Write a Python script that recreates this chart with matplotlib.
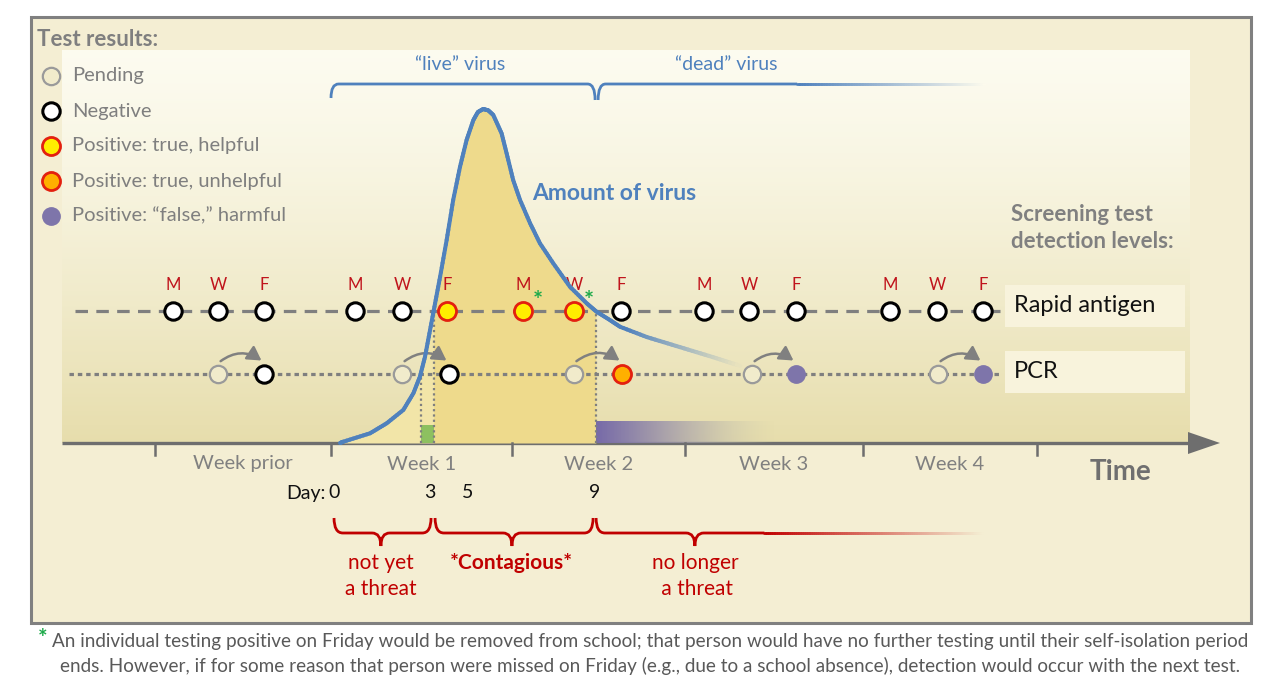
import numpy as np
import matplotlib.pyplot as plt
from matplotlib.colors import to_rgb
from matplotlib.patches import Rectangle, Polygon, PathPatch, FancyArrowPatch
from matplotlib.path import Path
from matplotlib.collections import LineCollection
from matplotlib.transforms import blended_transform_factory

plt.rcParams['font.family'] = ['Lato', 'DejaVu Sans']
plt.rcParams['lines.scale_dashes'] = False

# amount of virus over time (day, relative amount, peak = 100)
virus_day = [0.36, 0.49, 1.55, 2.21, 2.87, 3.27, 3.53, 3.73, 3.93, 4.13, 4.33,
             4.59, 4.85, 5.12, 5.38, 5.65, 5.83, 6.04, 6.24, 6.44, 6.77, 6.97,
             7.23, 7.50, 7.90, 8.29, 8.82, 9.48, 10.15, 10.54, 11.07, 11.47,
             12.54, 13.85, 15.16, 16.23]
virus_amt = [0.0, 0.4, 2.9, 5.9, 9.9, 14.9, 19.9, 25.8, 33.8, 41.8, 49.8,
             60.8, 72.8, 82.7, 90.7, 96.7, 99.1, 100.0, 99.6, 98.2, 92.7, 86.7,
             78.7, 72.8, 65.8, 59.8, 53.8, 46.8, 41.8, 39.3, 36.8, 34.8,
             31.7, 28.7, 25.7, 23.1]

week_labels = ['Week prior', 'Week 1', 'Week 2', 'Week 3', 'Week 4']
week_edges = [-7, 0, 7.2, 14.05, 21.1, 28]

# detection levels of the two screening tests
rapid_level = 39.5
pcr_level = 20.7

rapid_days = [-6.27, -4.48, -2.66, 0.95, 2.82, 4.60, 7.62, 9.64, 11.51,
              14.80, 16.59, 18.45, 22.18, 24.05, 25.87]
rapid_letters = ['M', 'W', 'F'] * 5
rapid_results = ['neg'] * 5 + ['pos'] * 3 + ['neg'] * 7
rapid_starred = [7.62, 9.64]

pcr_sent = [-4.48, 2.82, 9.64, 16.71, 24.09]
pcr_back = [-2.66, 4.68, 11.55, 18.45, 25.87]
pcr_results = ['neg', 'neg', 'late', 'false', 'false']

day_numbers = ['0', '3', '5', '9']
day_number_pos = [0.12, 3.93, 5.44, 10.48]

phase_text = ['not yet\na threat', '*Contagious*', 'no longer\n a threat']
phase_span = [(0.12, 3.97), (4.13, 10.40), (10.52, 25.9)]
phase_tip = [1.98, 7.18, 14.44]

legend_kinds = ['pending', 'neg', 'pos', 'late', 'false']
legend_text = ['Pending', 'Negative', 'Positive: true, helpful',
               'Positive: true, unhelpful', 'Positive: \u201cfalse,\u201d harmful']

style = {
    'pending': dict(mfc='#F1EBCB', mec='#9A9A9A', mew=1.6, ms=12.5),
    'neg': dict(mfc='white', mec='black', mew=2.2, ms=12.5),
    'pos': dict(mfc='#FFEE00', mec='#E3200F', mew=2.0, ms=13),
    'late': dict(mfc='#FFB000', mec='#E3200F', mew=2.0, ms=13),
    'false': dict(mfc='#7E75AA', mec='#7E75AA', mew=1.0, ms=12.5),
}
blue = '#4F81BD'
red = '#C00000'
gray = '#7F7F7F'
outer_bg = '#F4EED3'

# figure: bg axes in pixels, ax in days / virus amount
X0, PXD = 331, 25.2
Y0, PXA = 443, 3.34
fig = plt.figure(figsize=(12.8, 6.86), dpi=100)
bg = fig.add_axes([0, 0, 1, 1])
bg.axis('off')
ax = fig.add_axes([0, 0, 1, 1])
ax.axis('off')
tx = blended_transform_factory(ax.transData, bg.transData)

top_c = np.array([0.99, 0.985, 0.94])
bot_c = np.array([0.905, 0.868, 0.675])


def panel_color(py):
    gg = np.clip((py - 50) / 393.0, 0, 1) ** 1.3
    return top_c * (1 - gg) + bot_c * gg


bg.add_patch(Rectangle((31, 17), 1220, 606, fc=outer_bg, ec='#808080', lw=2.2, zorder=0))
panel = np.array([panel_color(p) for p in np.linspace(50, 443, 256)])[:, None, :]
bg.imshow(panel, extent=(62, 1190, 443, 50), aspect='auto', zorder=1)
bg.set_xlim(0, 1280)
bg.set_ylim(686, 0)

# virus curve and shaded areas
d = np.array(virus_day)
a = np.array(virus_amt)
pk = int(np.argmax(a))
t_pcr = np.interp(pcr_level, a[:pk + 1], d[:pk + 1])
t_on = np.interp(rapid_level, a[:pk + 1], d[:pk + 1])
t_off = np.interp(rapid_level, a[pk:][::-1], d[pk:][::-1])

m = d < t_on
ax.fill_between(np.r_[d[m], t_on], 0, np.r_[a[m], rapid_level], color='#F2E5A8', lw=0, zorder=2)
m = (d > t_on) & (d < t_off)
ax.fill_between(np.r_[t_on, d[m], t_off], 0, np.r_[rapid_level, a[m], rapid_level],
                color='#EEDA8C', lw=0, zorder=2)
ax.fill_between([t_pcr, t_on], 0, 5.4, color='#8DC060', lw=0, zorder=3)

pg = np.linspace(0, 1, 200)
purple = np.zeros((1, 200, 4))
purple[0, :, 0] = 0.47 + 0.35 * pg
purple[0, :, 1] = 0.42 + 0.40 * pg
purple[0, :, 2] = 0.66 + 0.02 * pg
purple[0, :, 3] = np.clip(1 - pg ** 1.6, 0, 1)
ax.imshow(purple, extent=(t_off, 17.6, 0, 6.3), aspect='auto', zorder=3, interpolation='bilinear')

for t, lev in [(t_pcr, pcr_level), (t_on, rapid_level), (t_off, rapid_level)]:
    ax.plot([t, t], [0, lev], color=gray, lw=1.6, dashes=(1.6, 2.2), zorder=4)

# curve, fading into the background on the right
fine = []
for i in range(len(d) - 1):
    for k in range(8):
        u0, u1 = k / 8, (k + 1) / 8
        fine.append([(d[i] + (d[i + 1] - d[i]) * u0, a[i] + (a[i + 1] - a[i]) * u0),
                     (d[i] + (d[i + 1] - d[i]) * u1, a[i] + (a[i + 1] - a[i]) * u1)])
fine = np.array(fine)
cols = []
for sg in fine:
    xm, ym = sg.mean(axis=0)
    t = np.clip((xm - 11.8) / (16.3 - 11.8), 0, 1) ** 0.9
    cols.append((1 - t) * np.array(to_rgb(blue)) + t * panel_color(Y0 - ym * PXA))
ax.add_collection(LineCollection(fine, colors=cols, lw=2.9, capstyle='round',
                                 joinstyle='round', zorder=8))

# test lines and markers
ax.plot([-10.15, 26.55], [rapid_level] * 2, color=gray, lw=2.3, dashes=(9, 6), zorder=5)
ax.plot([-10.4, 26.55], [pcr_level] * 2, color=gray, lw=2.3, dashes=(3.2, 2.8), zorder=5)
for dd, r, lt in zip(rapid_days, rapid_letters, rapid_results):
    ax.plot(dd, rapid_level, 'o', zorder=7, **style[lt])
    ax.text(dd, 285, r, transform=tx, color='#C0141C', fontsize=12,
            ha='center', va='center', zorder=7)
for dd in rapid_starred:
    ax.text(dd + 0.6, 302, '*', transform=tx, color='#1DAA4A', fontsize=17,
            weight='bold', ha='center', va='center', zorder=7)
for s, b, r in zip(pcr_sent, pcr_back, pcr_results):
    ax.plot(s, pcr_level, 'o', zorder=7, **style['pending'])
    ax.plot(b, pcr_level, 'o', zorder=7, **style[r])
    ax.add_patch(FancyArrowPatch((s + 0.1, pcr_level + 3.8), (b - 0.1, pcr_level + 4.0),
                                 connectionstyle='arc3,rad=-0.35',
                                 arrowstyle='-|>,head_length=0.55,head_width=0.32',
                                 mutation_scale=15, shrinkA=0, shrinkB=0,
                                 color='#808080', lw=1.8, zorder=7))

# time axis
bg.plot([62, 1195], [443, 443], color='#6E6E6E', lw=2.4, solid_capstyle='butt', zorder=6)
bg.add_patch(Polygon([(1188, 432), (1220, 443), (1188, 454)], closed=True,
                     fc='#6E6E6E', ec='none', zorder=6))
for e in week_edges:
    ax.plot([e, e], [443, 455], transform=tx, color='#6E6E6E', lw=1.8, zorder=6)
for i, lab in enumerate(week_labels):
    ax.text((week_edges[i] + week_edges[i + 1]) / 2, 464, lab, transform=tx,
            fontsize=14.5, color='#808080', ha='center', va='center')
bg.text(1120, 472, 'Time', fontsize=20, weight='bold', color='#6F6F6F', ha='center', va='center')

ax.text(day_number_pos[0] - 0.35, 493, 'Day:', transform=tx, fontsize=14,
        color='#111111', ha='right', va='center')
for n, p in zip(day_numbers, day_number_pos):
    ax.text(p, 493, n, transform=tx, fontsize=14, color='#111111', ha='center', va='center')


def fade_line(xa, xb, y, color, fade_to, lw):
    xs = np.linspace(xa, xb, 120)
    sg = [[(xs[i], y), (xs[i + 1], y)] for i in range(len(xs) - 1)]
    c0, c1 = np.array(to_rgb(color)), np.array(to_rgb(fade_to))
    tt = np.linspace(0, 1, len(sg))
    ax.add_collection(LineCollection(sg, colors=[(1 - v) * c0 + v * c1 for v in tt],
                                     lw=lw, capstyle='round', transform=tx, zorder=6))


def brace(x0, x1, tip, y_end, y_line, y_tip, color, fade_to, r=0.3, open_end=None):
    v = [(x0, y_end), (x0, y_line), (x0 + r, y_line)]
    c = [Path.MOVETO, Path.CURVE3, Path.CURVE3]
    if tip is not None:
        v += [(tip - r, y_line), (tip, y_line), (tip, y_tip), (tip, y_line), (tip + r, y_line)]
        c += [Path.LINETO, Path.CURVE3, Path.CURVE3, Path.CURVE3, Path.CURVE3]
    if open_end is None:
        v += [(x1 - r, y_line), (x1, y_line), (x1, y_tip if tip is None else y_end)]
        c += [Path.LINETO, Path.CURVE3, Path.CURVE3]
    else:
        v += [(open_end, y_line)]
        c += [Path.LINETO]
        fade_line(open_end, x1, y_line, color, fade_to, 2.0)
    ax.add_patch(PathPatch(Path(v, c), fc='none', ec=color, lw=2.0,
                           transform=tx, zorder=6, capstyle='butt'))


# live / dead virus brackets
brace(0.0, 10.48, None, 98, 84, 100, blue, panel_color(84))
brace(10.6, 25.95, None, 100, 84, 100, blue, panel_color(84), open_end=18.5)
ax.text(5.12, 64, '\u201clive\u201d virus', transform=tx, fontsize=14, color=blue,
        ha='center', va='center')
ax.text(15.67, 64, '\u201cdead\u201d virus', transform=tx, fontsize=14, color=blue,
        ha='center', va='center')

# contagious phases
for (x0, x1), tp, txt in zip(phase_span, phase_tip, phase_text):
    brace(x0, x1, tp, 518, 533, 546, red, outer_bg, r=0.35,
          open_end=17.2 if x1 > 20 else None)
    bold = txt.startswith('*')
    ax.text(tp, 563 if bold else 576, txt, transform=tx, fontsize=15, color=red,
            ha='center', va='center', linespacing=1.35,
            weight='bold' if bold else 'normal')

# text labels
bg.text(532, 193, 'Amount of virus', fontsize=16.5, weight='bold', color=blue, va='center')
bg.text(516, 411, 'Infectious', fontsize=18, color='#2B2B2B', ha='center', va='center', zorder=9)
bg.text(1011, 228, 'Screening test\ndetection levels:', fontsize=16, weight='bold',
        color='#808080', va='center', linespacing=1.3)
for yy, lab in [(306, 'Rapid antigen'), (372, 'PCR')]:
    bg.add_patch(Rectangle((1005, yy - 21), 180, 42, fc='#F8F3DC', ec='none', zorder=2))
    bg.text(1014, yy, lab, fontsize=17, color='#111111', va='center', zorder=3)

# legend
bg.text(37, 39, 'Test results:', fontsize=16, weight='bold', color='#7F7F7F', va='center')
for i, (k, lab) in enumerate(zip(legend_kinds, legend_text)):
    yy = 76 + 35 * i
    bg.plot(51, yy, 'o', zorder=4, **style[k])
    bg.text(72, yy, lab, fontsize=14.5, color='#7F7F7F', va='center')

# footnote
bg.text(43, 639, '*', fontsize=16, weight='bold', color='#1DAA4A', ha='center', va='center')
bg.text(650, 641, 'An individual testing positive on Friday would be removed from school; that person '
        'would have no further testing until their self-isolation period',
        fontsize=13.6, color='#595959', ha='center', va='center')
bg.text(650, 666, 'ends. However, if for some reason that person were missed on Friday (e.g., due to '
        'a school absence), detection would occur with the next test.',
        fontsize=13.6, color='#595959', ha='center', va='center')

ax.set_xlim(-X0 / PXD, (1280 - X0) / PXD)
ax.set_ylim(-(686 - Y0) / PXA, Y0 / PXA)
bg.set_xlim(0, 1280)
bg.set_ylim(686, 0)

fig.savefig('out.png', dpi=100, facecolor='white')
